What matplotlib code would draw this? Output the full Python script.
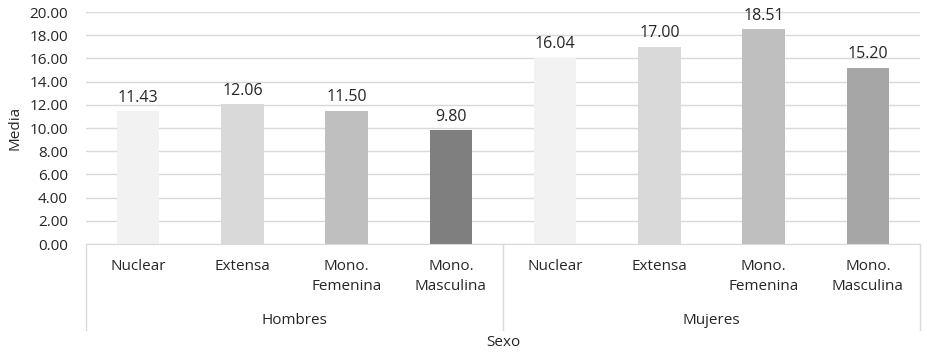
import matplotlib
matplotlib.use("Agg")
import matplotlib.pyplot as plt
import matplotlib.transforms as mtransforms

# Data
groups = ["Hombres", "Mujeres"]
tipos = ["Nuclear", "Extensa", "Mono.\nFemenina", "Mono.\nMasculina"]
hombres = [11.43, 12.06, 11.50, 9.80]
mujeres = [16.04, 17.00, 18.51, 15.20]
colores_h = ["#F2F2F2", "#D9D9D9", "#BFBFBF", "#7F7F7F"]
colores_m = ["#F2F2F2", "#D9D9D9", "#BFBFBF", "#A6A6A6"]

plt.rcParams["font.family"] = ["Open Sans", "DejaVu Sans"]
txt = "#262626"
fs = 11

fig = plt.figure(figsize=(9.28, 3.56), dpi=100)
ax = fig.add_axes([86 / 928, 1 - 244 / 356, (920 - 86) / 928, 232 / 356])

valores = hombres + mujeres
colores = colores_h + colores_m
x = list(range(len(valores)))
bars = ax.bar(x, valores, width=0.41, color=colores, zorder=3)

for b, v in zip(bars, valores):
    ax.annotate(f"{v:.2f}", (b.get_x() + b.get_width() / 2, v),
                xytext=(0, 4), textcoords="offset points",
                ha="center", va="bottom", fontsize=fs + 0.5, color=txt)

ax.set_xlim(-0.5, 7.5)
ax.set_ylim(0, 20)
ax.set_yticks(range(0, 21, 2))
ax.set_yticklabels([f"{t:.2f}" for t in range(0, 21, 2)], fontsize=fs, color=txt)
ax.yaxis.grid(True, color="#D9D9D9", linewidth=1, zorder=0)
ax.tick_params(axis="y", length=0, pad=13)
ax.set_xticks([])
for s in ["left", "right", "top"]:
    ax.spines[s].set_visible(False)
ax.spines["bottom"].set_color("#D9D9D9")
ax.spines["bottom"].set_zorder(4)

ax.set_ylabel("Media", fontsize=fs, color=txt, labelpad=5)

# multi-level category axis
trans = mtransforms.blended_transform_factory(ax.transData, ax.transAxes)
px = 1 / 232  # one pixel in axes fraction
for xs in [-0.5, 3.5, 7.5]:
    ax.plot([xs, xs], [0, -86 * px], color="#D9D9D9", lw=1,
            transform=trans, clip_on=False)

for i, lab in enumerate(tipos * 2):
    ax.text(i, -15 * px, lab, transform=trans, ha="center", va="top",
            fontsize=fs, color=txt, linespacing=1.5)

for g, lab in enumerate(groups):
    ax.text(g * 4 + 1.5, -77 * px, lab, transform=trans, ha="center",
            va="center", fontsize=fs, color=txt)

ax.text(3.5, -99 * px, "Sexo", transform=trans, ha="center", va="center",
        fontsize=fs, color=txt)

fig.savefig("out.png", dpi=100)
